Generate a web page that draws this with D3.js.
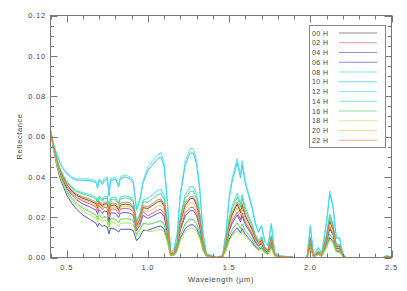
<!DOCTYPE html>
<html>
<head>
<meta charset="utf-8">
<script src="https://cdn.jsdelivr.net/npm/d3@7"></script>
<style>
    html, body { margin: 0; padding: 0; background: #fff; }
    svg text { font-family: "Liberation Sans", Arial, sans-serif; fill: #444; }
</style>
</head>
<body>
<svg id="chart" width="407" height="291"></svg>
<script>
'use strict';

// wavelength in micrometres
const wavelength = [0.40,0.42,0.44,0.46,0.48,0.50,0.53,0.56,0.60,0.64,0.68,0.69,0.70,0.72,0.73,0.75,0.76,0.77,0.80,0.82,0.83,0.86,0.89,0.91,0.93,0.95,0.97,
    1.00,1.03,1.06,1.08,1.10,1.12,1.14,1.16,1.18,1.20,1.23,1.26,1.28,1.30,1.32,1.34,1.36,1.42,1.46,1.48,1.50,1.52,1.55,1.57,1.58,1.60,1.62,1.64,1.66,1.68,
    1.70,1.72,1.74,1.76,1.78,1.80,1.90,1.98,2.00,2.02,2.05,2.07,2.10,2.12,2.14,2.16,2.18,2.20,2.22,2.30,2.45,2.47,2.50];

// reflectance x 1000, one array per hour
const h00 = [63,54.4,47.8,42.7,39.2,36.1,33,30.9,29.3,28.2,26.7,24.5,27.2,25.3,26.6,26.5,20.7,25.8,26,23.4,26,26.5,26,24.7,15.6,18.7,24.7,
    24.3,25.9,27.5,28.1,25.4,15.1,1.6,2.2,6.5,17.3,25.9,29.2,29.2,25.9,18.4,6.5,1.1,0,0.5,6.5,16.2,21.6,26.5,22.1,25.9,20.5,17.3,14,9.7,7,8.6,4.3,3.2,9.2,1.6,0.5,0,0,8.6,0.5,2.7,1.1,9.7,17.8,14,5.4,5.4,1.1,0,0,0,0.5,0];
const h02 = [63,54.2,47.3,42.1,38.5,35.2,32,29.8,27.9,26.7,25.1,23,25.5,23.7,24.9,24.6,19.2,24,24,21.6,24,24.4,24,22.8,14.4,17.3,22.8,
    20.7,22.1,23.5,23.9,21.6,12.9,1.4,1.8,5.5,14.7,22.1,24.8,24.8,22.1,15.6,5.5,0.9,0,0.5,5.5,13.8,18.4,22.5,18.9,22.1,17.5,14.7,12,8.3,6,7.4,3.7,2.8,7.8,1.4,0.5,0,0,7.4,0.5,2.3,0.9,8.3,15.2,12,4.6,4.6,0.9,0,0,0,0.5,0];
const h04 = [63,53.9,46.8,41.5,37.8,34.4,31,28.6,26.5,25.2,23.5,21.4,23.8,21.9,23.1,22.7,17.7,22.1,22,19.8,22,22.3,22,20.9,13.2,15.8,20.9,
    19.4,20.6,21.9,22.4,20.2,12,1.3,1.7,5.2,13.8,20.6,23.2,23.2,20.6,14.6,5.2,0.9,0,0.4,5.2,12.9,17.2,21.1,17.6,20.6,16.3,13.8,11.2,7.7,5.6,6.9,3.4,2.6,7.3,1.3,0.4,0,0,6.9,0.4,2.2,0.9,7.7,14.2,11.2,4.3,4.3,0.9,0,0,0,0.4,0];
const h06 = [63,53,45,39,35,31,27,24,21,19,17,15.3,17,15.2,16,15,11.7,14.6,14,12.6,14,14,14,13.3,8.4,10.1,13.3,
    13.5,14.4,15.3,15.6,14.1,8.4,0.9,1.2,3.6,9.6,14.4,16.2,16.2,14.4,10.2,3.6,0.6,0,0.3,3.6,9,12,14.7,12.3,14.4,11.4,9.6,7.8,5.4,3.9,4.8,2.4,1.8,5.1,0.9,0.3,0,0,4.8,0.3,1.5,0.6,5.4,9.9,7.8,3,3,0.6,0,0,0,0.3,0];
const h08 = [63,54.8,48.7,43.9,40.5,37.8,35,33.2,32.1,31.3,29.9,27.5,30.5,28.6,30.1,30.4,23.7,29.6,30,27,30,30.6,30,28.5,18,21.6,28.5,
    29.3,31.2,33.2,33.8,30.6,18.2,2,2.6,7.8,20.8,31.2,35.1,35.1,31.2,22.1,7.8,1.3,0,0.7,7.8,19.5,26,31.9,26.7,31.2,24.7,20.8,16.9,11.7,8.5,10.4,5.2,3.9,11.1,2,0.7,0,0,10.4,0.7,3.3,1.3,11.7,21.5,16.9,6.5,6.5,1.3,0,0,0,0.7,0];
const h10 = [63,56,50.8,46.7,43.7,41.6,39.5,38.4,38.3,38.2,37.2,34.4,38.2,36.2,38.1,39,30.4,38,39,35.1,39,40,39,37,23.4,28.1,37,
    43.2,46.1,49,49.9,45.1,26.9,2.9,3.8,11.5,30.7,46.1,51.8,51.8,46.1,32.6,11.5,1.9,0,1,11.5,28.8,38.4,47,39.4,46.1,36.5,30.7,25,17.3,12.5,15.4,7.7,5.8,16.3,2.9,1,0,0,15.4,1,4.8,1.9,17.3,31.7,25,9.6,9.6,1.9,0,0,0,1,0];
const h12 = [63,56,51,47,44,42,40,39,39,39,38,35,39,37,39,40,32,39,40,36,40,41,40,38,24,29,38,
    45,48,51,52,47,28,3,4,12,32,48,54,54,48,34,12,2,0,1,12,30,40,49,41,48,38,32,26,18,13,16,8,6,17,3,1,0,0,16,1,5,2,18,33,26,10,10,2,0,0,0,1,0];
const h14 = [63,54.7,48.5,43.6,40.2,37.3,34.5,32.7,31.4,30.5,29.1,26.7,29.7,27.8,29.3,29.4,22.9,28.7,29,26.1,29,29.6,29,27.6,17.4,20.9,27.6,
    27.5,29.3,31.1,31.7,28.7,17.1,1.8,2.4,7.3,19.5,29.3,32.9,32.9,29.3,20.7,7.3,1.2,0,0.6,7.3,18.3,24.4,29.9,25,29.3,23.2,19.5,15.9,11,7.9,9.8,4.9,3.7,10.4,1.8,0.6,0,0,9.8,0.6,3.1,1.2,11,20.1,15.9,6.1,6.1,1.2,0,0,0,0.6,0];
const h16 = [63,53.6,46.2,40.5,36.7,33.1,29.5,26.9,24.5,22.8,21,19.1,21.2,19.4,20.4,19.8,15.4,19.3,19,17.1,19,19.2,19,18.1,11.4,13.7,17,
    16.5,16.8,17.9,18.2,16.5,9.8,1.1,1.4,4.2,11.2,16.8,18.9,18.9,16.8,11.9,4.2,0.7,0,0.4,4.2,10.5,14,17.2,14.4,16.8,13.3,11.2,9.1,6.3,4.6,5.6,2.8,2.1,6,1.1,0.4,0,0,5.6,0.4,1.8,0.7,6.3,11.6,9.1,3.5,3.5,0.7,0,0,0,0.4,0];
const h18 = [63,53.3,45.7,39.9,36,32.3,28.5,25.7,23.1,21.3,19.4,17.6,19.5,17.7,18.6,17.9,14,17.5,17,15.3,17,17.1,17,16.2,10.2,12.2,14,
    13,13,13.8,14,12.7,7.6,0.8,1.1,3.2,8.6,13,14.6,14.6,13,9.2,3.2,0.5,0,0.3,3.2,8.1,10.8,13.2,11.1,13,10.3,8.6,7,4.9,3.5,4.3,2.2,1.6,4.6,0.8,0.3,0,0,4.3,0.3,1.4,0.5,4.9,8.9,7,2.7,2.7,0.5,0,0,0,0.3,0];
const h20 = [63,54.3,47.5,42.4,38.8,35.7,32.5,30.3,28.6,27.5,25.9,23.7,26.3,24.4,25.7,25.6,20,25,25,22.5,25,25.4,25,23.8,15,18,23.8,
    22.5,24,25.5,26,23.5,14,1.5,2,6,16,24,27,27,24,17,6,1,0,0.5,6,15,20,24.5,20.5,24,19,16,13,9,6.5,8,4,3,8.5,1.5,0.5,0,0,8,0.5,2.5,1,9,16.5,13,5,5,1,0,0,0,0.5,0];
const h22 = [63,54.5,48,43,39.5,36.5,33.5,31.5,30,29,27.5,25.2,28,26.1,27.5,27.5,21.5,26.8,27,24.3,27,27.5,27,25.7,16.2,19.4,25.7,
    25.2,26.9,28.6,29.1,26.3,15.7,1.7,2.2,6.7,17.9,26.9,30.2,30.2,26.9,19,6.7,1.1,0,0.6,6.7,16.8,22.4,27.4,23,26.9,21.3,17.9,14.6,10.1,7.3,9,4.5,3.4,9.5,1.7,0.6,0,0,9,0.6,2.8,1.1,10.1,18.5,14.6,5.6,5.6,1.1,0,0,0,0.6,0];

const hourLabels = ["00 H", "02 H", "04 H", "06 H", "08 H", "10 H", "12 H", "14 H", "16 H", "18 H", "20 H", "22 H"];
const hourColors = ["#404040", "#c8508a", "#6a3fb0", "#2c48b8", "#30d8c0", "#18c4d8", "#48dff0", "#30d890", "#44d040", "#b0e040", "#f0c040", "#f07030"];
const hourValues = [h00, h02, h04, h06, h08, h10, h12, h14, h16, h18, h20, h22];

const xTicks = [0.5, 1.0, 1.5, 2.0, 2.5];
const yTicks = [0.00, 0.02, 0.04, 0.06, 0.08, 0.10, 0.12];

const svg = d3.select("#chart");
const pLeft = 50.5, pRight = 391.5, pTop = 15.5, pBottom = 257.5;
const axisColor = "#777";

const x = d3.scaleLinear().domain([0.4, 2.5]).range([pLeft, pRight]);
const y = d3.scaleLinear().domain([0, 0.12]).range([pBottom, pTop]);

const plot = svg.append("g");
plot.append("clipPath").attr("id", "clip")
    .append("rect").attr("x", pLeft).attr("y", pTop).attr("width", pRight - pLeft).attr("height", pBottom - pTop);

const line = d3.line()
    .x((d, i) => x(wavelength[i]))
    .y(d => y(d / 1000));

const curves = plot.append("g").attr("clip-path", "url(#clip)");
hourValues.forEach((vals, i) => {
    curves.append("path")
        .attr("d", line(vals))
        .attr("fill", "none")
        .attr("stroke", hourColors[i])
        .attr("stroke-width", 0.9)
        .attr("stroke-linejoin", "round");
});

// frame with inward ticks on all four sides
const xMinor = d3.range(0.4, 2.5001, 0.1).map(v => +v.toFixed(2));
const yMinor = d3.range(0, 0.12001, 0.005).map(v => +v.toFixed(3));

function isMajor(v, list) {
    return list.some(t => Math.abs(t - v) < 1e-6);
}

const axes = svg.append("g").attr("stroke", axisColor).attr("stroke-width", 1).attr("fill", "none");
axes.append("rect").attr("x", pLeft).attr("y", pTop).attr("width", pRight - pLeft).attr("height", pBottom - pTop);

xMinor.forEach(v => {
    const len = isMajor(v, xTicks) ? 7 : 4;
    const px = Math.round(x(v)) + 0.5;
    axes.append("line").attr("x1", px).attr("x2", px).attr("y1", pBottom).attr("y2", pBottom - len);
    axes.append("line").attr("x1", px).attr("x2", px).attr("y1", pTop).attr("y2", pTop + len);
});
yMinor.forEach(v => {
    const len = isMajor(v, yTicks) ? 7 : 3.5;
    const py = Math.round(y(v)) + 0.5;
    axes.append("line").attr("x1", pLeft).attr("x2", pLeft + len).attr("y1", py).attr("y2", py);
    axes.append("line").attr("x1", pRight).attr("x2", pRight - len).attr("y1", py).attr("y2", py);
});

const fmtX = d3.format(".1f");
const fmtY = d3.format(".2f");

svg.append("g").selectAll("text").data(xTicks).join("text")
    .attr("x", d => x(d))
    .attr("y", 270)
    .attr("text-anchor", "middle")
    .style("font-size", "7.5px")
    .style("letter-spacing", "0.8px")
    .text(d => fmtX(d));

svg.append("g").selectAll("text").data(yTicks).join("text")
    .attr("x", 46)
    .attr("y", d => y(d) + 2.8)
    .attr("text-anchor", "end")
    .style("font-size", "7.5px")
    .style("letter-spacing", "0.8px")
    .text(d => fmtY(d));

svg.append("text")
    .attr("x", (pLeft + pRight) / 2)
    .attr("y", 282)
    .attr("text-anchor", "middle")
    .style("font-size", "7.5px")
    .style("letter-spacing", "0.6px")
    .text("Wavelength (\u00b5m)");

svg.append("text")
    .attr("transform", `translate(22,${(pTop + pBottom) / 2}) rotate(-90)`)
    .attr("text-anchor", "middle")
    .style("font-size", "7.5px")
    .style("letter-spacing", "0.6px")
    .text("Reflectance");

// legend
const legend = svg.append("g");
legend.append("rect")
    .attr("x", 309.5).attr("y", 25.5).attr("width", 76).attr("height", 122)
    .attr("fill", "#fff").attr("stroke", "#888").attr("stroke-width", 1);

hourLabels.forEach((label, i) => {
    const cy = 33 + i * 9.75;
    legend.append("text")
        .attr("x", 312).attr("y", cy + 2.5)
        .style("font-size", "7px")
        .style("letter-spacing", "0.4px")
        .text(label);
    legend.append("line")
        .attr("x1", 339).attr("x2", 377)
        .attr("y1", cy).attr("y2", cy)
        .attr("stroke", hourColors[i])
        .attr("stroke-opacity", 0.6)
        .attr("stroke-width", 1);
});
</script>
</body>
</html>
